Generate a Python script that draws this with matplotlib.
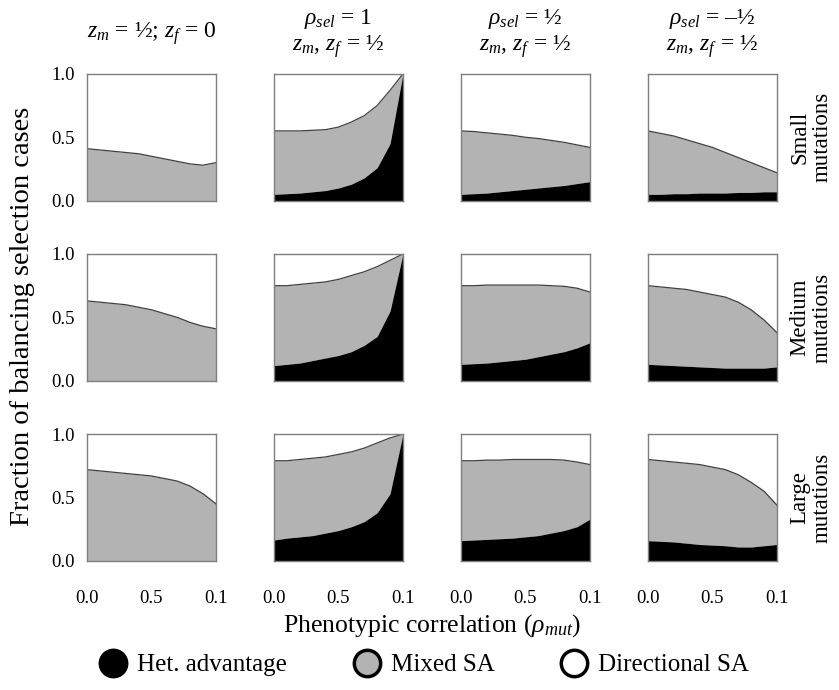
import matplotlib
matplotlib.use('Agg')
import matplotlib.pyplot as plt
from matplotlib.lines import Line2D
import numpy as np

plt.rcParams['font.family'] = ['Liberation Serif', 'DejaVu Serif']
plt.rcParams['mathtext.fontset'] = 'custom'
plt.rcParams['mathtext.rm'] = 'Liberation Serif'
plt.rcParams['mathtext.it'] = 'Liberation Serif:italic'

# phenotypic correlation values (x)
rho_mut = [0.0, 0.1, 0.2, 0.3, 0.4, 0.5, 0.6, 0.7, 0.8, 0.9, 1.0]
xtick_pos = [0.0, 0.5, 1.0]
xtick_labels = ['0.0', '0.5', '0.1']
ytick_pos = [0.0, 0.5, 1.0]
ytick_labels = ['0.0', '0.5', '1.0']

col_titles = [r'$z_m$ = ½; $z_f$ = 0',
              '$\\rho_{sel}$ = 1\n$z_m$, $z_f$ = ½',
              '$\\rho_{sel}$ = ½\n$z_m$, $z_f$ = ½',
              '$\\rho_{sel}$ = \u2013½\n$z_m$, $z_f$ = ½']
row_titles = ['Small\nmutations', 'Medium\nmutations', 'Large\nmutations']

# het. advantage fraction (black), per row/column
het_small = [
    [0] * 11,
    [0.05, 0.055, 0.06, 0.07, 0.08, 0.10, 0.13, 0.18, 0.26, 0.45, 1.0],
    [0.05, 0.055, 0.06, 0.07, 0.08, 0.09, 0.10, 0.11, 0.12, 0.135, 0.15],
    [0.05, 0.05, 0.055, 0.055, 0.06, 0.06, 0.06, 0.065, 0.065, 0.07, 0.07],
]
het_medium = [
    [0] * 11,
    [0.12, 0.13, 0.14, 0.16, 0.18, 0.20, 0.23, 0.28, 0.35, 0.55, 1.0],
    [0.13, 0.135, 0.14, 0.15, 0.16, 0.17, 0.19, 0.21, 0.23, 0.26, 0.30],
    [0.13, 0.125, 0.12, 0.115, 0.11, 0.105, 0.10, 0.10, 0.10, 0.10, 0.11],
]
het_large = [
    [0] * 11,
    [0.165, 0.18, 0.19, 0.20, 0.22, 0.24, 0.27, 0.31, 0.38, 0.53, 1.0],
    [0.16, 0.165, 0.17, 0.175, 0.18, 0.19, 0.20, 0.22, 0.24, 0.27, 0.33],
    [0.16, 0.155, 0.15, 0.14, 0.13, 0.125, 0.12, 0.11, 0.11, 0.12, 0.13],
]

# het. advantage + mixed SA (top of grey area)
bal_small = [
    [0.41, 0.40, 0.39, 0.38, 0.37, 0.35, 0.33, 0.31, 0.29, 0.28, 0.30],
    [0.55, 0.55, 0.55, 0.555, 0.56, 0.58, 0.62, 0.67, 0.75, 0.87, 1.0],
    [0.55, 0.545, 0.535, 0.525, 0.515, 0.50, 0.49, 0.475, 0.46, 0.44, 0.42],
    [0.55, 0.53, 0.51, 0.48, 0.45, 0.42, 0.38, 0.34, 0.30, 0.26, 0.22],
]
bal_medium = [
    [0.63, 0.62, 0.61, 0.60, 0.58, 0.56, 0.53, 0.50, 0.46, 0.43, 0.41],
    [0.75, 0.75, 0.76, 0.77, 0.78, 0.80, 0.83, 0.86, 0.90, 0.95, 1.0],
    [0.75, 0.75, 0.755, 0.755, 0.755, 0.755, 0.755, 0.75, 0.745, 0.73, 0.70],
    [0.75, 0.74, 0.73, 0.72, 0.70, 0.68, 0.66, 0.62, 0.56, 0.48, 0.38],
]
bal_large = [
    [0.72, 0.71, 0.70, 0.69, 0.68, 0.67, 0.65, 0.63, 0.59, 0.53, 0.45],
    [0.79, 0.79, 0.80, 0.81, 0.82, 0.84, 0.86, 0.89, 0.93, 0.97, 1.0],
    [0.79, 0.79, 0.795, 0.795, 0.80, 0.80, 0.80, 0.80, 0.795, 0.78, 0.76],
    [0.80, 0.79, 0.78, 0.77, 0.76, 0.74, 0.72, 0.68, 0.62, 0.55, 0.44],
]

het_rows = [het_small, het_medium, het_large]
bal_rows = [bal_small, bal_medium, bal_large]

grey = '#b3b3b3'
spine_col = '#7f7f7f'

fig, axes = plt.subplots(3, 4, figsize=(8.39, 6.9), dpi=100)
fig.subplots_adjust(left=0.1037, right=0.926, bottom=0.187, top=0.893,
                    wspace=0.45, hspace=0.42)

x = np.array(rho_mut)
for r in range(3):
    for c in range(4):
        ax = axes[r, c]
        het = np.array(het_rows[r][c])
        bal = np.array(bal_rows[r][c])
        ax.fill_between(x, bal, 1.0, color='white', lw=0)
        ax.fill_between(x, het, bal, color=grey, lw=0)
        ax.fill_between(x, 0, het, color='black', lw=0)
        ax.plot(x, bal, color='#404040', lw=0.9)
        ax.set_xlim(0, 1)
        ax.set_ylim(0, 1)
        for s in ax.spines.values():
            s.set_color(spine_col)
            s.set_linewidth(1.0)
        ax.tick_params(length=0, labelsize=13.5)
        ax.set_xticks(xtick_pos)
        ax.set_yticks(ytick_pos)
        if c == 0:
            ax.set_yticklabels(ytick_labels)
            ax.tick_params(axis='y', pad=9)
        else:
            ax.set_yticklabels([])
        if r == 2:
            ax.set_xticklabels(xtick_labels)
            ax.tick_params(axis='x', pad=21)
        else:
            ax.set_xticklabels([])
        if r == 0:
            ax.text(0.5, 1.32, col_titles[c], transform=ax.transAxes,
                    ha='center', va='center', fontsize=17, linespacing=1.1)
        if c == 3:
            ax.text(1.265, 0.5, row_titles[r], transform=ax.transAxes,
                    ha='center', va='center', rotation=90, fontsize=16.5,
                    linespacing=1.1)

fig.text(0.027, 0.542, 'Fraction of balancing selection cases',
         rotation=90, ha='center', va='center', fontsize=20.5)
fig.text(0.515, 0.094, r'Phenotypic correlation ($\rho_{mut}$)',
         ha='center', va='center', fontsize=18.5)

handles = [
    Line2D([], [], ls='none', marker='o', ms=19, mfc='black', mec='black', mew=2.5),
    Line2D([], [], ls='none', marker='o', ms=19, mfc=grey, mec='black', mew=2.5),
    Line2D([], [], ls='none', marker='o', ms=19, mfc='white', mec='black', mew=2.5),
]
fig.legend(handles, ['Het. advantage', 'Mixed SA', 'Directional SA'],
           loc='center', bbox_to_anchor=(0.505, 0.036), ncol=3, frameon=False,
           fontsize=18, handletextpad=0.35, columnspacing=2.6, handlelength=1.2)

fig.savefig('out.png', dpi=100)
